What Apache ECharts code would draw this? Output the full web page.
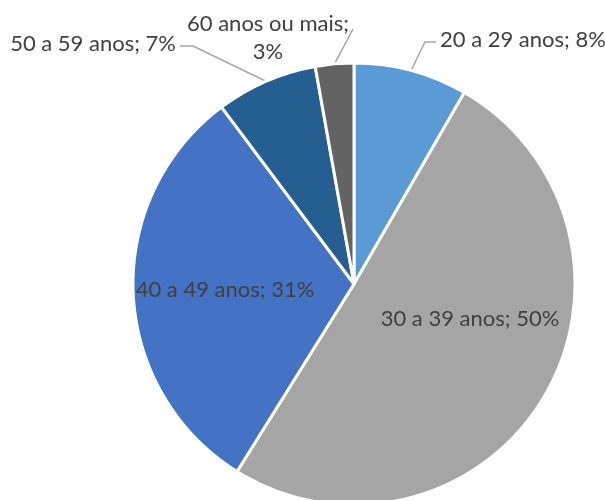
<!DOCTYPE html>
<html>
<head>
<meta charset="utf-8">
<script src="https://cdn.jsdelivr.net/npm/echarts@6/dist/echarts.min.js"></script>
<style>
  html, body { margin: 0; padding: 0; background: #fff; }
  #chart { width: 605px; height: 500px; }
</style>
</head>
<body>
<div id="chart"></div>
<script>
var categories = ['20 a 29 anos', '30 a 39 anos', '40 a 49 anos', '50 a 59 anos', '60 anos ou mais'];
var values = [8.3, 50.4, 30.8, 7.4, 2.8];
var pctLabels = ['8%', '50%', '31%', '7%', '3%'];
var colors = ['#5B9BD5', '#A5A5A5', '#4472C4', '#255E91', '#636363'];

// where each label sits, and the elbow of the leader line (outside labels)
var labelPlace = [
    { x: 440, y: 40, align: 'left', elbow: [[425, 42], [436, 42]] },
    { x: 470, y: 319, align: 'center' },
    { x: 225, y: 290, align: 'center' },
    { x: 176, y: 44, align: 'right', elbow: [[193, 46], [180, 46]] },
    { x: 268, y: 38, align: 'center', elbow: [[353, 29]] }
];

var chart = echarts.init(document.getElementById('chart'));

var data = categories.map(function (name, i) {
    var inside = !labelPlace[i].elbow;
    var text = i === 4 ? '60 anos ou mais;\n' + pctLabels[i] : name + '; ' + pctLabels[i];
    return {
        name: name,
        value: values[i],
        itemStyle: { color: colors[i] },
        label: {
            position: inside ? 'inside' : 'outside',
            formatter: text
        },
        labelLine: { show: !inside }
    };
});

var option = {
    animation: false,
    series: [
        {
            type: 'pie',
            center: [354, 284],
            radius: 221,
            startAngle: 90,
            clockwise: true,
            avoidLabelOverlap: false,
            itemStyle: { borderColor: '#fff', borderWidth: 3 },
            label: {
                color: '#404040',
                fontFamily: 'Lato',
                fontSize: 22,
                lineHeight: 28
            },
            labelLine: {
                lineStyle: { color: '#A6A6A6', width: 1.5 }
            },
            labelLayout: function (params) {
                var p = labelPlace[params.dataIndex];
                var res = { x: p.x, y: p.y, align: p.align, verticalAlign: 'middle' };
                if (p.elbow && params.labelLinePoints) {
                    res.labelLinePoints = [params.labelLinePoints[0]].concat(p.elbow);
                }
                return res;
            },
            data: data
        }
    ]
};

chart.setOption(option);
</script>
</body>
</html>
